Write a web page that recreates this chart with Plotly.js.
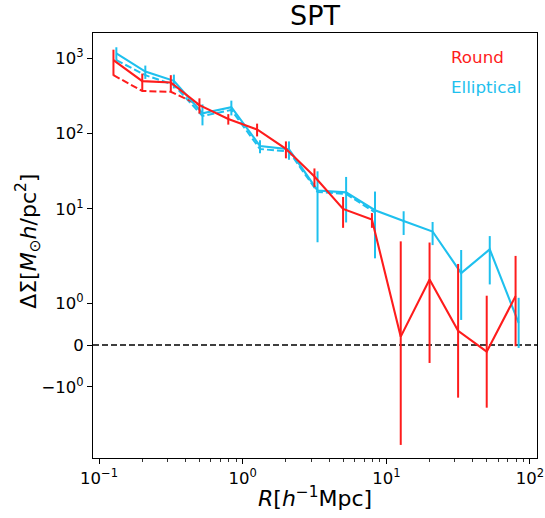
<!DOCTYPE html>
<html>
<head>
<meta charset="utf-8">
<script src="https://cdn.plot.ly/plotly-3.0.1.min.js"></script>
<style>html,body{margin:0;padding:0;background:#fff;}#chart{width:545px;height:518px;}</style>
</head>
<body>
<div id="chart"></div>
<script>
// ---- data ----
const roundR = [0.126, 0.2, 0.316, 0.5, 0.794, 1.26, 2.0, 3.16, 5.0, 7.94, 12.6, 20.0, 31.6, 50.0, 79.4];
const roundY = [950, 500, 480, 240, 157, 114, 63, 27, 10.0, 7.2, 0.2, 1.57, 0.34, -0.16, 1.17];
const roundErr = [360, 130, 120, 55, 25, 22, 16, 7.5, 4.4, 1.6, 3.5, 2.0, 1.6, 1.34, 1.2];
const roundDashR = [0.126, 0.2, 0.316, 0.5];
const roundDashY = [600, 370, 360, 240];

const ellR = [0.132, 0.21, 0.332, 0.525, 0.834, 1.32, 2.1, 3.32, 5.25, 8.34, 13.2, 21.0, 33.2, 52.5, 83.4];
const ellY = [1170, 670, 505, 187, 225, 68.6, 62, 17.6, 16.6, 9.6, 6.9, 5.0, 1.72, 2.9, 0.53];
const ellErr = [240, 135, 105, 58, 50, 13.5, 17, 14, 10, 7.4, 2.4, 1.7, 1.12, 1.45, 0.6];
const ellDashR = [0.132, 0.21, 0.332, 0.525, 0.834, 1.32, 2.1, 3.32, 5.25, 8.34];
const ellDashY = [950, 600, 445, 172, 207, 62.5, 58, 16.8, 15.8, 9.0];

const xTickVals = [0.1, 1, 10, 100];
const xTickText = ['10<sup>−1</sup>', '10<sup>0</sup>', '10<sup>1</sup>', '10<sup>2</sup>'];
const xMinorVals = [0.2,0.3,0.4,0.5,0.6,0.7,0.8,0.9,2,3,4,5,6,7,8,9,20,30,40,50,60,70,80,90];
const yTickVals = [-1, 0, 1, 10, 100, 1000];
const yTickText = ['−10<sup>0</sup>', '0', '10<sup>0</sup>', '10<sup>1</sup>', '10<sup>2</sup>', '10<sup>3</sup>'];
const legendLabels = ['Round', 'Elliptical'];

// ---- symlog transform (linthresh 2, linscale 1, base 10) ----
const LT = 2, LS = 1 / (1 - 1 / 10);
function sl(v) {
  const a = Math.abs(v);
  return a <= LT ? v * LS : Math.sign(v) * LT * (LS + Math.log10(a / LT));
}
function errs(y, e) {
  return {
    plus: y.map((v, i) => sl(v + e[i]) - sl(v)),
    minus: y.map((v, i) => sl(v) - sl(v - e[i]))
  };
}

const RED = '#fe1c1c', CYAN = '#1ec0ee';
const eR = errs(roundY, roundErr), eE = errs(ellY, ellErr);
const FONT = 'DejaVu Sans, sans-serif';

const traces = [
  {x: ellDashR, y: ellDashY.map(sl), mode: 'lines', line: {color: CYAN, width: 2, dash: '7px,3px'}, hoverinfo: 'skip'},
  {x: roundDashR, y: roundDashY.map(sl), mode: 'lines', line: {color: RED, width: 2, dash: '7px,3px'}, hoverinfo: 'skip'},
  {x: ellR, y: ellY.map(sl), mode: 'lines', line: {color: CYAN, width: 2.1},
   error_y: {type: 'data', symmetric: false, array: eE.plus, arrayminus: eE.minus, color: CYAN, thickness: 2, width: 0}},
  {x: roundR, y: roundY.map(sl), mode: 'lines', line: {color: RED, width: 2.1},
   error_y: {type: 'data', symmetric: false, array: eR.plus, arrayminus: eR.minus, color: RED, thickness: 2, width: 0}}
];

const layout = {
  width: 545, height: 518,
  margin: {l: 93, r: 8, t: 33, b: 60},
  paper_bgcolor: '#fff', plot_bgcolor: '#fff',
  showlegend: false,
  font: {family: FONT, color: '#000'},
  title: {text: 'SPT', font: {size: 27, family: FONT, color: '#000'}, xref: 'paper', x: 0.5, xanchor: 'center', yref: 'container', y: 1 - 16 / 518, yanchor: 'middle'},
  xaxis: {
    type: 'log', range: [-1.042, 2.049],
    showgrid: false, zeroline: false, showline: true, mirror: true, linecolor: '#000', linewidth: 1,
    ticks: 'outside', ticklen: 5, tickwidth: 1, tickcolor: '#000',
    tickmode: 'array', tickvals: xTickVals, ticktext: xTickText,
    tickfont: {size: 16.5, family: FONT, color: '#000'},
    minor: {ticks: 'outside', ticklen: 3, tickwidth: 0.8, tickcolor: '#000', tickmode: 'array', tickvals: xMinorVals, showgrid: false}
  },
  yaxis: {
    range: [-3.005, 8.298],
    showgrid: false, zeroline: false, showline: true, mirror: true, linecolor: '#000', linewidth: 1,
    ticks: 'outside', ticklen: 5, tickwidth: 1, tickcolor: '#000',
    tickmode: 'array', tickvals: yTickVals.map(sl), ticktext: yTickText,
    tickfont: {size: 16.5, family: FONT, color: '#000'}
  },
  shapes: [{type: 'line', xref: 'paper', x0: 0, x1: 1, yref: 'y', y0: 0, y1: 0, layer: 'below',
            line: {color: '#000', width: 1.5, dash: '6px,3px'}}],
  annotations: [
    {text: legendLabels[0], xref: 'paper', yref: 'paper', x: 0.802, y: 0.9435, xanchor: 'left', yanchor: 'middle', showarrow: false, font: {size: 16.7, family: FONT, color: RED}},
    {text: legendLabels[1], xref: 'paper', yref: 'paper', x: 0.802, y: 0.873, xanchor: 'left', yanchor: 'middle', showarrow: false, font: {size: 16.7, family: FONT, color: CYAN}},
    {text: '<i>R</i>[<i>h</i><sup>−1</sup>Mpc]', xref: 'paper', yref: 'paper', x: 0.5, y: -0.092, xanchor: 'center', yanchor: 'middle', showarrow: false, font: {size: 22, family: FONT, color: '#000'}},
    {text: 'ΔΣ[<i>M</i><sub>⊙</sub><i>h</i>/pc<sup>2</sup>]', xref: 'paper', yref: 'paper', x: -0.145, y: 0.51, xanchor: 'center', yanchor: 'middle', textangle: -90, showarrow: false, font: {size: 22, family: FONT, color: '#000'}}
  ]
};

Plotly.newPlot('chart', traces, layout, {staticPlot: true, displayModeBar: false});
</script>
</body>
</html>
